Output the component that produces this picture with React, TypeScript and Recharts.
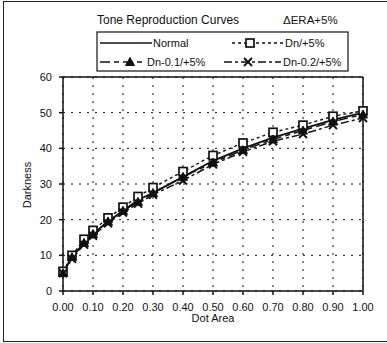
import React from 'react';
import { LineChart, Line, XAxis, YAxis, CartesianGrid, Legend, ReferenceLine, Label } from 'recharts';

const dotArea = [0, 0.03, 0.07, 0.1, 0.15, 0.2, 0.25, 0.3, 0.4, 0.5, 0.6, 0.7, 0.8, 0.9, 1.0];
const normal = [5, 9.5, 13.5, 16, 19.5, 22.5, 25.5, 27.5, 32, 36.5, 40, 43, 45.5, 48, 50];
const dn5 = [5.5, 10, 14.5, 17, 20.5, 23.5, 26.5, 29, 33.5, 38, 41.5, 44.5, 46.5, 49, 50.5];
const dn01 = [5, 9.5, 13.5, 16, 19.5, 22.5, 25, 27.5, 32, 36, 39.5, 42.5, 45, 47.5, 49.5];
const dn02 = [5, 9, 13, 15.5, 19, 22, 24.5, 27, 31, 35.5, 39, 42, 44, 46.5, 48.5];

const xTicks = [0, 0.1, 0.2, 0.3, 0.4, 0.5, 0.6, 0.7, 0.8, 0.9, 1.0];
const yTicks = [0, 10, 20, 30, 40, 50, 60];

const seriesNames = ['Normal', 'Dn/+5%', 'Dn-0.1/+5%', 'Dn-0.2/+5%'];
const titleText = 'Tone Reproduction Curves';
const subtitleText = '\u0394ERA+5%';
const xLabel = 'Dot Area';
const yLabel = 'Darkness';

const data = dotArea.map((x, i) => ({ x, normal: normal[i], dn5: dn5[i], dn01: dn01[i], dn02: dn02[i] }));

const FONT = '"Liberation Sans", Arial, sans-serif';
const INK = '#111';

const SquareShape = ({ cx, cy }: { cx: number; cy: number }) => (
  <rect x={cx - 4} y={cy - 4} width={8} height={8} fill="#fff" stroke={INK} strokeWidth={1.7} />
);
const TriShape = ({ cx, cy }: { cx: number; cy: number }) => (
  <path d={`M${cx},${cy - 4.5} L${cx + 4.5},${cy + 3.5} L${cx - 4.5},${cy + 3.5} Z`} fill={INK} stroke={INK} strokeWidth={1} />
);
const XShape = ({ cx, cy }: { cx: number; cy: number }) => (
  <g stroke={INK} strokeWidth={2}>
    <line x1={cx - 4} y1={cy - 4} x2={cx + 4} y2={cy + 4} />
    <line x1={cx - 4} y1={cy + 4} x2={cx + 4} y2={cy - 4} />
  </g>
);

const squareDot = (p: any) => <SquareShape key={`s${p.index}`} cx={p.cx} cy={p.cy} />;
const triDot = (p: any) => <TriShape key={`t${p.index}`} cx={p.cx} cy={p.cy} />;
const xDot = (p: any) => <XShape key={`x${p.index}`} cx={p.cx} cy={p.cy} />;

const LegendContent = () => (
  <svg width={387} height={80} style={{ display: 'block' }}>
    <text x={97} y={24} fontFamily={FONT} fontSize={12} fill={INK}>{titleText}</text>
    <text x={283} y={24} fontFamily={FONT} fontSize={11.5} fill={INK}>{subtitleText}</text>
    <rect x={97} y={32} width={251} height={39} fill="none" stroke={INK} strokeWidth={1.2} />
    <line x1={100} y1={43} x2={152} y2={43} stroke={INK} strokeWidth={1.6} />
    <text x={153} y={47} fontFamily={FONT} fontSize={11} fill={INK}>{seriesNames[0]}</text>
    <line x1={232} y1={43} x2={284} y2={43} stroke={INK} strokeWidth={1.4} strokeDasharray="3 3" />
    <SquareShape cx={250} cy={43} />
    <text x={285} y={47} fontFamily={FONT} fontSize={11} fill={INK}>{seriesNames[1]}</text>
    <line x1={100} y1={62} x2={146} y2={62} stroke={INK} strokeWidth={1.6} strokeDasharray="10 4 5 4" />
    <TriShape cx={130} cy={62} />
    <text x={147} y={66} fontFamily={FONT} fontSize={11} fill={INK}>{seriesNames[2]}</text>
    <line x1={224} y1={62} x2={281} y2={62} stroke={INK} strokeWidth={1.6} strokeDasharray="8 3 3 3" />
    <XShape cx={248} cy={62} />
    <text x={283} y={66} fontFamily={FONT} fontSize={11} fill={INK}>{seriesNames[3]}</text>
  </svg>
);

export default function App() {
  return (
    <div style={{ position: 'absolute', left: 0, top: 0, width: 387, height: 343, background: '#fff' }}>
      <div
        style={{
          position: 'absolute',
          left: 3,
          top: 1,
          width: 400,
          height: 339,
          borderLeft: '1.5px solid #222',
          borderTop: '1.5px solid #222',
          borderBottom: '1.5px solid #222',
        }}
      />
      <div style={{ position: 'absolute', left: 0, top: 0 }}>
        <LineChart width={387} height={343} data={data} margin={{ top: 77, right: 24, bottom: 22, left: 0 }}>
          <CartesianGrid stroke={INK} strokeDasharray="2 6" strokeWidth={1} />
          <XAxis
            dataKey="x"
            type="number"
            domain={[0, 1]}
            ticks={xTicks}
            tickFormatter={(v: number) => v.toFixed(2)}
            height={30}
            tickSize={4}
            tickMargin={8}
            stroke={INK}
            strokeWidth={1.5}
            tick={{ fill: INK, fontSize: 11, fontFamily: FONT }}
            interval={0}
          >
            <Label
              content={() => (
                <text x={213} y={322} textAnchor="middle" fontFamily={FONT} fontSize={11} fill={INK}>{xLabel}</text>
              )}
            />
          </XAxis>
          <YAxis
            type="number"
            domain={[0, 60]}
            ticks={yTicks}
            width={63}
            tickSize={4}
            tickMargin={7}
            stroke={INK}
            strokeWidth={1.5}
            tick={{ fill: INK, fontSize: 11, fontFamily: FONT }}
            interval={0}
          >
            <Label
              content={() => (
                <text x={31} y={185} transform="rotate(-90 31 185)" textAnchor="middle" fontFamily={FONT} fontSize={11} fill={INK}>{yLabel}</text>
              )}
            />
          </YAxis>
          <ReferenceLine y={60} stroke={INK} strokeWidth={1.5} />
          <ReferenceLine x={1} stroke={INK} strokeWidth={1.5} />
          <Legend
            layout="horizontal"
            verticalAlign="middle"
            align="center"
            content={() => <LegendContent />}
            wrapperStyle={{ top: 0, left: 0, width: 387, height: 80 }}
          />
          <Line dataKey="normal" name={seriesNames[0]} stroke={INK} strokeWidth={1.8} dot={false} isAnimationActive={false} legendType="none" />
          <Line dataKey="dn5" name={seriesNames[1]} stroke={INK} strokeWidth={1.4} strokeDasharray="3 3" dot={squareDot} isAnimationActive={false} />
          <Line dataKey="dn01" name={seriesNames[2]} stroke={INK} strokeWidth={1.5} strokeDasharray="10 4 5 4" dot={triDot} isAnimationActive={false} />
          <Line dataKey="dn02" name={seriesNames[3]} stroke={INK} strokeWidth={1.5} strokeDasharray="8 3 3 3" dot={xDot} isAnimationActive={false} />
        </LineChart>
      </div>
    </div>
  );
}
